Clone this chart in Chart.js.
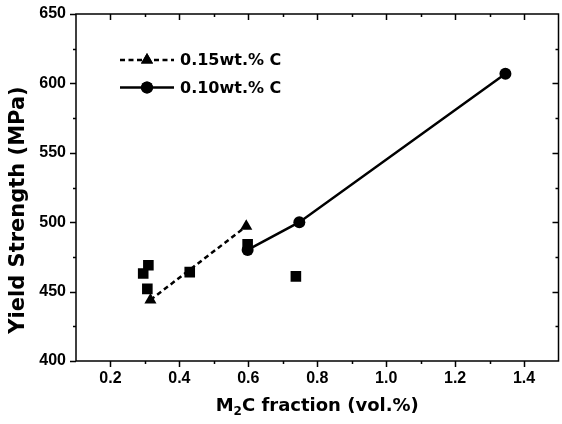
<!DOCTYPE html>
<html>
<head>
<meta charset="utf-8">
<script src="https://cdn.jsdelivr.net/npm/chart.js@4/dist/chart.umd.min.js"></script>
<style>
  html, body { margin: 0; padding: 0; background: #fff; overflow: hidden; }
  /* un poco mas ancho que la ventana: Chart.js deja 5px a la derecha */
  #wrap { width: 566px; height: 424px; }
</style>
</head>
<body>
<div id="wrap"><canvas id="myChart"></canvas></div>
<script>
// Datos
const xTicks = [0.2, 0.4, 0.6, 0.8, 1.0, 1.2, 1.4];
const yTicks = [400, 450, 500, 550, 600, 650];

const c015Label = '0.15wt.% C';
const c015X = [0.316, 0.594];
const c015Y = [444, 497];

const c010Label = '0.10wt.% C';
const c010X = [0.598, 0.748, 1.346];
const c010Y = [480, 500, 607];

// cuadros sin leyenda
const otherX = [0.295, 0.31, 0.307, 0.43, 0.598, 0.738];
const otherY = [463, 469, 452, 464, 484, 461];

const toPts = (xs, ys) => xs.map((x, i) => ({ x: x, y: ys[i] }));
const FONT = "'Liberation Sans', Arial, sans-serif";
const WIDE = "'DejaVu Sans', sans-serif";
const zeroPad = s => { s.paddingLeft = 0; s.paddingRight = 0; s.paddingTop = 0; s.paddingBottom = 0; };

// marco, marcas, titulos de ejes y leyenda
const framePlugin = {
  id: 'frame',
  afterDraw(chart) {
    const ctx = chart.ctx;
    const a = chart.chartArea;
    const sx = chart.scales.x, sy = chart.scales.y;
    ctx.save();
    ctx.strokeStyle = '#000';
    ctx.fillStyle = '#000';
    ctx.lineWidth = 1.5;
    ctx.strokeRect(a.left, a.top, a.right - a.left, a.bottom - a.top);
    ctx.beginPath();
    for (let i = 1; i <= 15; i++) {
      const v = i / 10;
      const len = (i % 2 === 0) ? 6 : 3;
      const px = Math.round(sx.getPixelForValue(v)) + 0.5;
      if (px <= a.left + 1 || px >= a.right - 1) continue;
      ctx.moveTo(px, a.bottom); ctx.lineTo(px, a.bottom + len);
      ctx.moveTo(px, a.top); ctx.lineTo(px, a.top + len);
    }
    for (let v = 400; v <= 650; v += 25) {
      const len = (v % 50 === 0) ? 6 : 3;
      const py = Math.round(sy.getPixelForValue(v)) + 0.5;
      ctx.moveTo(a.left, py); ctx.lineTo(a.left - len, py);
      if (v > 400 && v < 650) { ctx.moveTo(a.right, py); ctx.lineTo(a.right - len, py); }
    }
    ctx.stroke();

    // titulo eje x con subindice
    const big = 'bold 18px ' + WIDE, small = 'bold 12px ' + WIDE;
    ctx.textBaseline = 'alphabetic';
    ctx.textAlign = 'left';
    ctx.font = big;
    const wM = ctx.measureText('M').width;
    const wRest = ctx.measureText('C fraction (vol.%)').width;
    ctx.font = small;
    const w2 = ctx.measureText('2').width;
    let tx = (a.left + a.right) / 2 - (wM + w2 + wRest) / 2;
    const ty = 411;
    ctx.font = big; ctx.fillText('M', tx, ty); tx += wM;
    ctx.font = small; ctx.fillText('2', tx, ty + 4); tx += w2;
    ctx.font = big; ctx.fillText('C fraction (vol.%)', tx, ty);

    // titulo eje y
    ctx.save();
    ctx.translate(24, 210);
    ctx.rotate(-Math.PI / 2);
    ctx.font = 'bold 21px ' + WIDE;
    ctx.textAlign = 'center';
    ctx.fillText('Yield Strength (MPa)', 0, 0);
    ctx.restore();

    // leyenda: linea + marcador + texto
    const items = chart.data.datasets.filter(d => d.label);
    items.forEach((d, i) => {
      const y = 60 + i * 27.5;
      ctx.beginPath();
      ctx.lineWidth = d.borderWidth;
      ctx.setLineDash(d.borderDash || []);
      ctx.moveTo(120, y); ctx.lineTo(174, y);
      ctx.stroke();
      ctx.setLineDash([]);
      Chart.helpers.drawPoint(ctx, { pointStyle: d.pointStyle, radius: d.pointRadius, borderWidth: 0 }, 147, y);
      ctx.fill();
      ctx.font = 'bold 16px ' + WIDE;
      ctx.textBaseline = 'middle';
      ctx.textAlign = 'left';
      ctx.fillText(d.label, 180, y + 1);
    });
    ctx.restore();
  }
};

const ctx = document.getElementById('myChart');

new Chart(ctx, {
  type: 'scatter',
  data: {
    datasets: [{
      label: c015Label,
      data: toPts(c015X, c015Y),
      showLine: true,
      borderColor: '#000',
      backgroundColor: '#000',
      borderWidth: 2.5,
      borderDash: [5, 3.5],
      pointStyle: 'triangle',
      pointRadius: 7,
      pointBorderWidth: 0
    }, {
      label: c010Label,
      data: toPts(c010X, c010Y),
      showLine: true,
      borderColor: '#000',
      backgroundColor: '#000',
      borderWidth: 2.5,
      pointStyle: 'circle',
      pointRadius: 6,
      pointBorderWidth: 0
    }, {
      label: '',
      data: toPts(otherX, otherY),
      showLine: false,
      borderColor: '#000',
      backgroundColor: '#000',
      pointStyle: 'rect',
      pointRadius: 7.5,
      pointBorderWidth: 0
    }]
  },
  options: {
    responsive: true,
    maintainAspectRatio: false,
    animation: false,
    events: [],
    layout: { padding: { top: 14, right: 1, left: 0, bottom: 0 } },
    plugins: { legend: { display: false }, tooltip: { enabled: false } },
    scales: {
      x: {
        type: 'linear',
        min: 0.1,
        max: 1.5,
        afterBuildTicks: s => { s.ticks = xTicks.map(v => ({ value: v })); },
        afterFit: s => { s.height = 63; zeroPad(s); },
        grid: { display: false, drawTicks: false },
        border: { display: false },
        ticks: {
          color: '#000',
          padding: 8,
          font: { family: FONT, size: 16, weight: 'bold' },
          callback: v => v.toFixed(1)
        }
      },
      y: {
        min: 400,
        max: 650,
        afterBuildTicks: s => { s.ticks = yTicks.map(v => ({ value: v })); },
        afterFit: s => { s.width = 76; zeroPad(s); },
        grid: { display: false, drawTicks: false },
        border: { display: false },
        ticks: {
          color: '#000',
          padding: 10,
          font: { family: FONT, size: 16, weight: 'bold' }
        }
      }
    }
  },
  plugins: [framePlugin]
});
</script>
</body>
</html>
